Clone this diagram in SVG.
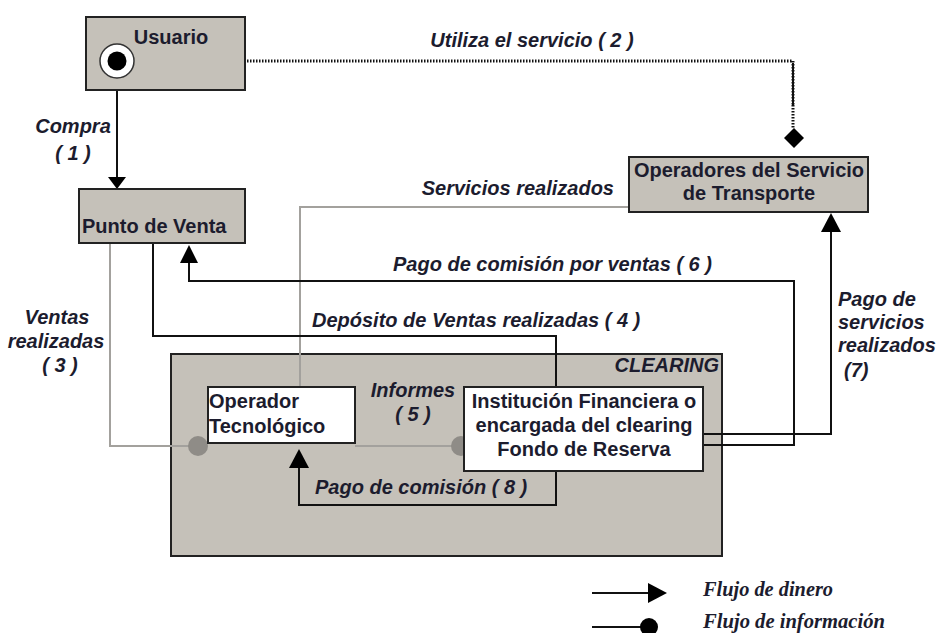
<svg xmlns="http://www.w3.org/2000/svg" width="937" height="633" viewBox="0 0 937 633">
<style>
.gbox{fill:#c5c1b9;stroke:#222;stroke-width:2}
.wbox{fill:#fff;stroke:#222;stroke-width:2}
.nt{font-family:"Liberation Sans",Arial,sans-serif;font-size:20px;font-weight:bold;fill:#1c1c2e}
.lb{font-family:"Liberation Sans",Arial,sans-serif;font-size:20px;font-weight:bold;font-style:italic;fill:#1c1c2e}
.lg{font-family:"Liberation Serif","Times New Roman",serif;font-size:20px;font-style:italic;font-weight:bold;fill:#1c1c2e}
.blk{fill:none;stroke:#111;stroke-width:2}
.gry{fill:none;stroke:#a3a19d;stroke-width:2}
.dot{fill:none;stroke:#111;stroke-width:3;stroke-dasharray:1.5 1.5}
.ah{fill:#000}
.gdot{fill:#8f8c87}
</style>

<g id="clearing">
  <rect x="171" y="354" width="551" height="202" class="gbox"/>
  <text x="719" y="372" class="lb" text-anchor="end">CLEARING</text>
</g>

<g id="connectors">
  <!-- Utiliza el servicio (2) -->
  <path d="M136 61 H793 V105" class="dot"/>
  <path d="M793 63 V105" fill="none" stroke="#111" stroke-width="2"/>
  <path d="M793 105 V128" class="dot"/>
  <polygon points="794,128 804,138 794,148 784,138" class="ah"/>
  <!-- Compra (1) -->
  <path d="M117 79 V178" class="blk"/>
  <polygon points="108,177 126,177 117,189" class="ah"/>
  <!-- Ventas realizadas (3) -->
  <path d="M110 243 V446 H198" class="gry"/>
  <circle cx="198" cy="446" r="10" class="gdot"/>
  <!-- Informes (5) -->
  <path d="M355 446 H460" class="gry"/>
  <circle cx="461" cy="446" r="10" class="gdot"/>
  <!-- Servicios realizados -->
  <path d="M629 207 H300 V387" class="gry"/>
  <!-- Depósito (4) -->
  <path d="M153 243 V336 H556 V387" class="blk"/>
  <!-- Pago comisión por ventas (6) -->
  <path d="M703 445 H794 V281 H189 V262" class="blk"/>
  <polygon points="180,263 198,263 189,245" class="ah"/>
  <!-- Pago servicios (7) -->
  <path d="M703 434 H831 V231" class="blk"/>
  <polygon points="821,232 841,232 831,213" class="ah"/>
  <!-- Pago de comisión (8) -->
  <path d="M556 471 V505 H299 V467" class="blk"/>
  <polygon points="289,468 309,468 299,449" class="ah"/>
</g>

<g id="usuario">
  <rect x="86" y="17" width="159" height="73" class="gbox"/>
  <text x="171" y="44" class="nt" text-anchor="middle">Usuario</text>
  <circle cx="117" cy="61" r="17" fill="#fff" stroke="#333" stroke-width="1.5"/>
  <circle cx="117" cy="61" r="9.5" fill="#000"/>
</g>

<g id="punto-venta">
  <rect x="79" y="189" width="166" height="54" class="gbox"/>
  <text x="82" y="233" class="nt">Punto de Venta</text>
</g>

<g id="operadores">
  <rect x="629" y="157" width="239" height="55" class="gbox"/>
  <text x="749" y="177" class="nt" text-anchor="middle">Operadores del Servicio</text>
  <text x="749" y="200" class="nt" text-anchor="middle">de Transporte</text>
</g>

<g id="operador-tecnologico">
  <rect x="208" y="387" width="147" height="56" class="wbox"/>
  <text x="209" y="408" class="nt">Operador</text>
  <text x="209" y="433" class="nt">Tecnológico</text>
</g>

<g id="institucion">
  <rect x="464" y="387" width="239" height="84" class="wbox"/>
  <text x="584" y="408" class="nt" text-anchor="middle">Institución Financiera o</text>
  <text x="584" y="432" class="nt" text-anchor="middle">encargada del clearing</text>
  <text x="584" y="456" class="nt" text-anchor="middle">Fondo de Reserva</text>
</g>

<g id="labels">
  <text x="532" y="47" class="lb" text-anchor="middle">Utiliza el servicio ( 2 )</text>
  <text x="73" y="133" class="lb" text-anchor="middle">Compra</text>
  <text x="73" y="160" class="lb" text-anchor="middle">( 1 )</text>
  <text x="614" y="195" class="lb" text-anchor="end">Servicios realizados</text>
  <text x="393" y="271" class="lb">Pago de comisión por ventas ( 6 )</text>
  <text x="312" y="327" class="lb">Depósito de Ventas realizadas ( 4 )</text>
  <text x="57" y="324" class="lb" text-anchor="middle">Ventas</text>
  <text x="56" y="348" class="lb" text-anchor="middle">realizadas</text>
  <text x="60" y="372" class="lb" text-anchor="middle">( 3 )</text>
  <text x="838" y="306" class="lb">Pago de</text>
  <text x="838" y="329" class="lb">servicios</text>
  <text x="838" y="352" class="lb">realizados</text>
  <text x="844" y="377" class="lb">(7)</text>
  <text x="413" y="397" class="lb" text-anchor="middle">Informes</text>
  <text x="413" y="421" class="lb" text-anchor="middle">( 5 )</text>
  <text x="315" y="494" class="lb">Pago de comisión ( 8 )</text>
</g>

<g id="legend">
  <path d="M592 593 H649" class="blk"/>
  <polygon points="648,583 667,593 648,603" class="ah"/>
  <text x="703" y="596" class="lg" textLength="130" lengthAdjust="spacingAndGlyphs">Flujo de dinero</text>
  <path d="M592 627 H642" class="blk"/>
  <circle cx="649" cy="627" r="9" fill="#000"/>
  <text x="703" y="628" class="lg" textLength="182" lengthAdjust="spacingAndGlyphs">Flujo de información</text>
</g>
</svg>
